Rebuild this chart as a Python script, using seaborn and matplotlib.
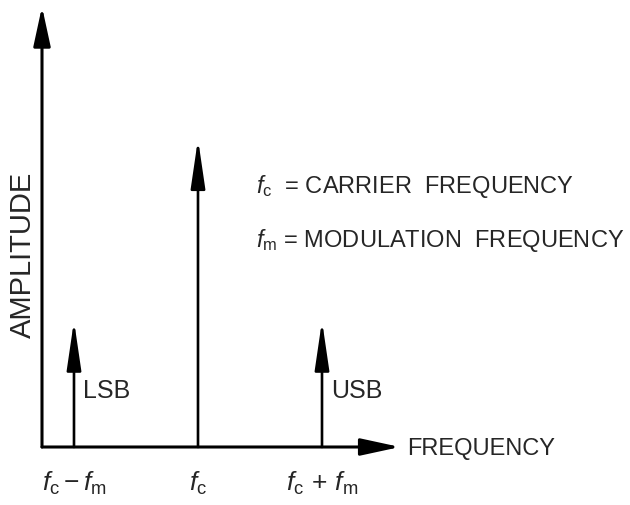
import matplotlib
matplotlib.use("Agg")
import matplotlib.pyplot as plt
import seaborn as sns

# spectrum of an AM signal: lower sideband, carrier, upper sideband
freqs = [-1.0, 0.0, 1.0]          # in units of fm, relative to fc
amps = [0.41, 1.0, 0.41]          # carrier amplitude = 1
tick_labels = [r"$\mathit{f}_{\mathrm{c}}\!\,-\mathit{f}_{\mathrm{m}}$",
               r"$\mathit{f}_{\mathrm{c}}$",
               r"$\mathit{f}_{\mathrm{c}}\,+\,\mathit{f}_{\mathrm{m}}$"]
band_names = ["LSB", "", "USB"]
legend_lines = [r"$\mathit{f}_{\mathrm{c}}$  = CARRIER  FREQUENCY",
                r"$\mathit{f}_{\mathrm{m}}$ = MODULATION  FREQUENCY"]

sns.set_style("white")
plt.rcParams['font.family'] = ['Liberation Sans', 'DejaVu Sans']
plt.rcParams['mathtext.fontset'] = 'custom'
plt.rcParams['mathtext.rm'] = 'Liberation Sans'
plt.rcParams['mathtext.it'] = 'Liberation Sans:italic'

fig = plt.figure(figsize=(6.3, 5.06), dpi=100)
ax = fig.add_axes([42 / 630, 58 / 506, 358 / 630, 436 / 506])
ax.set_xlim(-1.258, 1.629)
ax.set_ylim(0, 1.4156)
for s in ax.spines.values():
    s.set_visible(False)
ax.set_yticks([])
ax.set_xticks(freqs, tick_labels, fontsize=19)
ax.tick_params(axis='x', length=0, pad=16)

# axes drawn as arrows
axis_arrow = dict(arrowstyle='-|>,head_length=1.2,head_width=0.26', lw=2.2,
                  color='black', mutation_scale=20, shrinkA=0, shrinkB=0)
ax.annotate('', xy=(0, 1.01), xytext=(0, 0), xycoords='axes fraction',
            arrowprops=axis_arrow, annotation_clip=False)
ax.annotate('', xy=(1, 0), xytext=(0, 0), xycoords='axes fraction',
            arrowprops=axis_arrow, annotation_clip=False)

# spectral lines
stem_arrow = dict(arrowstyle='-|>,head_length=1.5,head_width=0.22', lw=1.9,
                  color='black', mutation_scale=20, shrinkA=0, shrinkB=0)
for f, a, name in zip(freqs, amps, band_names):
    ax.annotate('', xy=(f, a), xytext=(f, 0), arrowprops=stem_arrow)
    if name:
        ax.text(f + 0.07, 0.185, name, fontsize=18, va='center', ha='left')

ax.text(1.685, -0.003, "FREQUENCY", fontsize=17, va='center', ha='left', clip_on=False)
ax.text(-0.053, 0.443, "AMPLITUDE", transform=ax.transAxes, rotation=90,
        fontsize=21, va='center', ha='center')

ax.text(0.468, 0.85, legend_lines[0], fontsize=17, va='center', ha='left', clip_on=False)
ax.text(0.468, 0.675, legend_lines[1], fontsize=17, va='center', ha='left', clip_on=False)

fig.savefig("out.png", dpi=100)
